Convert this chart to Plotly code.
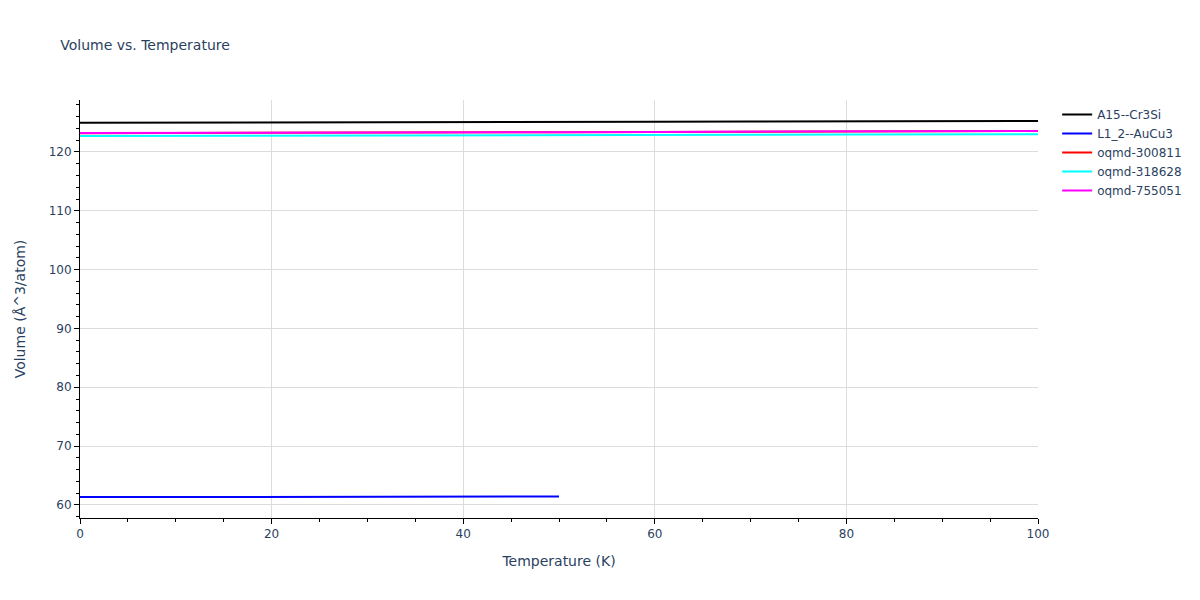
import plotly.graph_objects as go

temps = [0, 10, 20, 30, 40, 50, 60, 70, 80, 90, 100]
temps_l12 = [0, 10, 20, 30, 40, 50]

vol_a15 = [124.95, 124.96, 124.99, 125.02, 125.05, 125.09, 125.12, 125.16, 125.20, 125.24, 125.28]
vol_l12 = [61.33, 61.34, 61.35, 61.37, 61.40, 61.43]
vol_300811 = [123.20, 123.21, 123.24, 123.27, 123.31, 123.35, 123.39, 123.43, 123.47, 123.52, 123.56]
vol_318628 = [122.72, 122.73, 122.75, 122.78, 122.81, 122.84, 122.88, 122.91, 122.95, 122.99, 123.03]
vol_755051 = [123.22, 123.23, 123.26, 123.29, 123.33, 123.37, 123.41, 123.45, 123.49, 123.54, 123.58]

series = [
    ("A15--Cr3Si", temps, vol_a15, "black"),
    ("L1_2--AuCu3", temps_l12, vol_l12, "blue"),
    ("oqmd-300811", temps, vol_300811, "red"),
    ("oqmd-318628", temps, vol_318628, "cyan"),
    ("oqmd-755051", temps, vol_755051, "magenta"),
]

fig = go.Figure()
for name, x, y, c in series:
    fig.add_trace(go.Scatter(x=x, y=y, mode="lines", name=name,
                             line=dict(color=c, width=2)))

axis_common = dict(showline=True, linecolor="black", linewidth=1, ticks="outside",
                   tickcolor="black", showgrid=True, gridcolor="#dcdcdc",
                   zeroline=False, mirror=False)

fig.update_layout(
    width=1200, height=600,
    margin=dict(l=72, r=170, t=92, b=90),
    title=dict(text="Volume vs. Temperature", x=0.0435, y=0.938, yanchor="middle",
               font=dict(size=14)),
    plot_bgcolor="white", paper_bgcolor="white",
    font=dict(family="DejaVu Sans, Verdana, sans-serif", color="#2a3f5f", size=12),
    xaxis=dict(title=dict(text="Temperature (K)"), range=[0, 100],
               minor=dict(ticks="outside", dtick=5, tickcolor="black", showgrid=False),
               **axis_common),
    yaxis=dict(title=dict(text="Volume (Å^3/atom)", standoff=19),
               minor=dict(ticks="outside", dtick=2, tickcolor="black", showgrid=False),
               **axis_common),
    legend=dict(font=dict(size=12)),
)

fig.write_html("out.html")
